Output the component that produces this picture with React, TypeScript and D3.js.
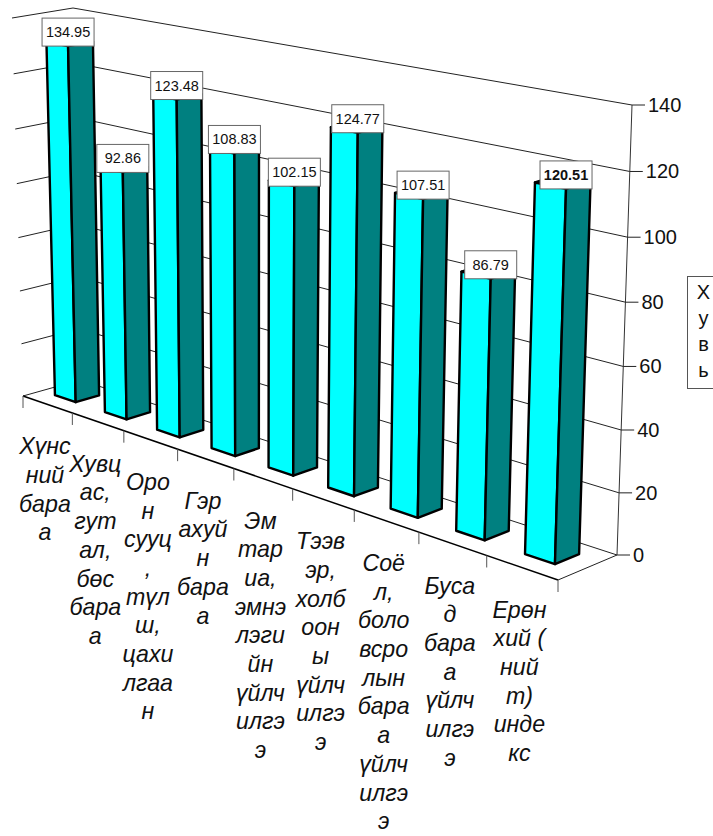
import * as d3 from "d3";

const categoryLines = [
  ["Хүнс", "ний", "бара", "а"],
  ["Хувц", "ас,", "гут", "ал,", "бөс", "бара", "а"],
  ["Оро", "н", "сууц", ",", "түл", "ш,", "цахи", "лгаа", "н"],
  ["Гэр", "ахуй", "н", "бара", "а"],
  ["Эм", "тар", "иа,", "эмнэ", "лэги", "йн", "үйлч", "илгэ", "э"],
  ["Тээв", "эр,", "холб", "оон", "ы", "үйлч", "илгэ", "э"],
  ["Соё", "л,", "боло", "всро", "лын", "бара", "а", "үйлч", "илгэ", "э"],
  ["Буса", "д", "бара", "а", "үйлч", "илгэ", "э"],
  ["Ерөн", "хий (", "ний", "т)", "инде", "кс"],
];
const values = [134.95, 92.86, 123.48, 108.83, 102.15, 124.77, 107.51, 86.79, 120.51];
const valueTicks = [0, 20, 40, 60, 80, 100, 120, 140];
const axisTitle = ["Х", "у", "в", "ь"];

const WIDTH = 713;
const HEIGHT = 836;
const FONT = "'Liberation Sans', Arial, sans-serif";

// screen corners of the 3D box: [u][v][w]
type Pt = [number, number];
const corners: Pt[][][] = [
  [
    [[23, 396], [12, 18]],
    [[80, 380], [73, 8]],
  ],
  [
    [[558, 580], [572, 123]],
    [[617, 555], [632, 105]],
  ],
];

// perspective foreshortening along an edge
const warp = (t: number, k: number) => t / (t + (1 - t) * k);

const mix = (a: Pt, b: Pt, t: number): Pt => [a[0] + (b[0] - a[0]) * t, a[1] + (b[1] - a[1]) * t];

function project(u: number, v: number, w: number): Pt {
  const uu = warp(u, 1.23);
  const ww = warp(w, 1.04);
  const at = (i: number) =>
    mix(mix(corners[i][0][0], corners[i][0][1], ww), mix(corners[i][1][0], corners[i][1][1], ww), v);
  return mix(at(0), at(1), uu);
}

const xBand = d3.scaleBand<number>().domain(d3.range(values.length)).range([0, 1]);
const yFrac = d3.scaleLinear().domain([0, 140]).range([0, 1]);
// bars come out a little shorter than the walls in the source
const barFrac = d3.scaleLinear().domain([0, 140]).range([0, 0.972]);
const line = d3.line();

const BAR_U0 = 0.27;
const BAR_U1 = 0.69;
const BAR_V0 = 0.33;
const BAR_V1 = 0.74;

export default function App() {
  return (
    <svg
      width={WIDTH}
      height={HEIGHT}
      viewBox={`0 0 ${WIDTH} ${HEIGHT}`}
      style={{ position: "absolute", left: 0, top: 0, background: "#fff" }}
      fontFamily={FONT}
    >
      {/* Walls: gridlines run from the left front edge, to the back corner, to the right axis */}
      {valueTicks.map((t) => {
        const w = yFrac(t);
        return (
          <path
            key={t}
            d={line([project(0, 0, w), project(0, 1, w), project(1, 1, w)]) as string}
            fill="none"
            stroke="#222"
            strokeWidth={1}
          />
        );
      })}

      {/* Floor edges */}
      <path d={line([project(1, 0, 0), project(1, 1, 0)]) as string} fill="none" stroke="#222" strokeWidth={1} />
      <path d={line([project(0, 0, 0), project(1, 0, 0)]) as string} fill="none" stroke="#000" strokeWidth={1.5} />

      {/* Category ticks */}
      {d3.range(values.length + 1).map((i) => {
        const [x, y] = project(i / values.length, 0, 0);
        return <line key={i} x1={x} x2={x} y1={y} y2={y + 12} stroke="#555" strokeWidth={1} />;
      })}

      {/* Value axis */}
      <path d={line([project(1, 1, 0), project(1, 1, 1)]) as string} fill="none" stroke="#333" strokeWidth={1} />
      {valueTicks.map((t) => {
        const [x, y] = project(1, 1, yFrac(t));
        return (
          <g key={t}>
            <line x1={x} x2={x + 13} y1={y} y2={y} stroke="#222" strokeWidth={1} />
            <text x={x + 16} y={y + 7} fontSize={20} fill="#111">
              {t}
            </text>
          </g>
        );
      })}

      {/* Bars */}
      {values.map((val, i) => {
        const u0 = (xBand(i) as number) + BAR_U0 * xBand.bandwidth();
        const u1 = (xBand(i) as number) + BAR_U1 * xBand.bandwidth();
        const w = barFrac(val);
        const front = [project(u0, BAR_V0, 0), project(u1, BAR_V0, 0), project(u1, BAR_V0, w), project(u0, BAR_V0, w)];
        const side = [project(u1, BAR_V0, 0), project(u1, BAR_V1, 0), project(u1, BAR_V1, w), project(u1, BAR_V0, w)];
        const top = [project(u0, BAR_V0, w), project(u1, BAR_V0, w), project(u1, BAR_V1, w), project(u0, BAR_V1, w)];
        return (
          <g key={i} stroke="#000" strokeWidth={2.4} strokeLinejoin="round">
            <path d={line(top) + "Z"} fill="#000" />
            <path d={line(front) + "Z"} fill="#00ffff" />
            <path d={line(side) + "Z"} fill="#008080" />
          </g>
        );
      })}

      {/* Data labels sit on top of the bars */}
      {values.map((val, i) => {
        const u1 = (xBand(i) as number) + BAR_U1 * xBand.bandwidth();
        const [x, y] = project(u1, BAR_V0, barFrac(val));
        const last = i === values.length - 1;
        return (
          <g key={i}>
            <rect x={x - 26} y={y - 28} width={52} height={28} fill="#fff" stroke="#666" strokeWidth={1} />
            <text
              x={x}
              y={y - 9}
              fontSize={14.5}
              fontWeight={last ? "bold" : "normal"}
              textAnchor="middle"
              fill="#111"
            >
              {val.toFixed(2)}
            </text>
          </g>
        );
      })}

      {/* Category labels, wrapped the way the source wraps them */}
      {categoryLines.map((lines, i) => {
        const [x0, y] = project((xBand(i) as number) + xBand.bandwidth() / 2, 0, 0);
        const x = x0 - 2.5;
        return (
          <text key={i} x={x} y={y + 50} fontSize={23.2} fontStyle="italic" textAnchor="middle" fill="#111">
            {lines.map((s, j) => (
              <tspan key={j} x={x} dy={j === 0 ? 0 : 28.7}>
                {s}
              </tspan>
            ))}
          </text>
        );
      })}

      {/* Axis title */}
      <rect x={687.5} y={276.5} width={40} height={112} fill="#fff" stroke="#555" strokeWidth={1} />
      <text x={703.5} y={299} fontSize={20} textAnchor="middle" fill="#111">
        {axisTitle.map((s, j) => (
          <tspan key={j} x={703.5} dy={j === 0 ? 0 : 26}>
            {s}
          </tspan>
        ))}
      </text>
    </svg>
  );
}
